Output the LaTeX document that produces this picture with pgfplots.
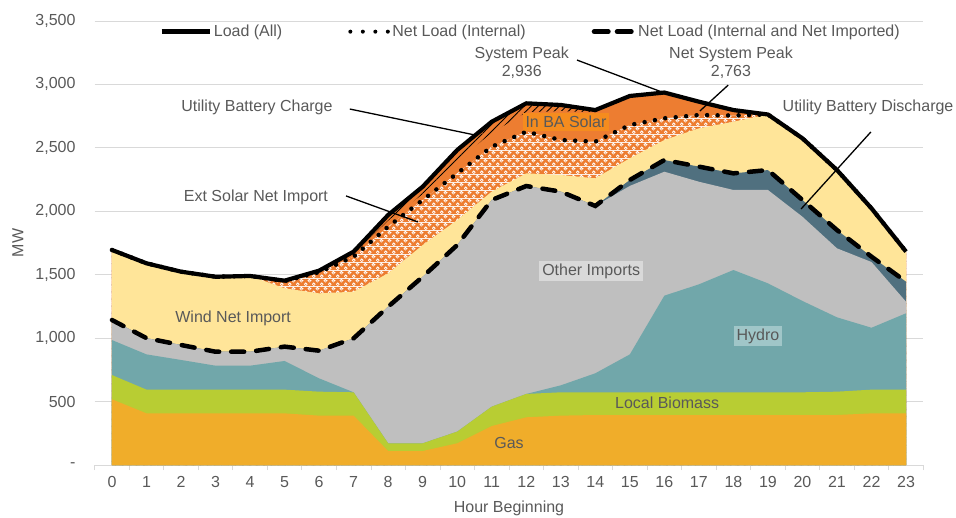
\documentclass[border=0pt]{standalone}
\usepackage{pgfplots}
\pgfplotsset{compat=1.18}
\usepackage{pgfplotstable}
\usepackage{fontspec}
\setmainfont{Liberation Sans}
\usetikzlibrary{patterns,patterns.meta}

\definecolor{gasC}{HTML}{F0AD2A}
\definecolor{bioC}{HTML}{B8CD33}
\definecolor{hydC}{HTML}{71A7AA}
\definecolor{othC}{HTML}{BFBFBF}
\definecolor{disC}{HTML}{50707F}
\definecolor{windC}{HTML}{FFE599}
\definecolor{solarC}{HTML}{ED7D31}
\definecolor{solarbox}{HTML}{F58C1E}
\definecolor{txtC}{HTML}{595959}
\definecolor{gridC}{HTML}{D9D9D9}
\definecolor{othbox}{HTML}{D9D9D9}
\definecolor{hydbox}{HTML}{A0C6C8}

\pgfdeclarepatterninherentlycolored{extsolar}
{\pgfpointorigin}{\pgfqpoint{8pt}{8pt}}{\pgfqpoint{8pt}{8pt}}
{
\pgfsetfillcolor{solarC}
\pgfpathrectangle{\pgfpointorigin}{\pgfqpoint{8pt}{8pt}}
\pgfusepath{fill}
\pgfsetfillcolor{white}
\pgfpathcircle{\pgfqpoint{2pt}{2pt}}{2.1pt}
\pgfpathcircle{\pgfqpoint{6pt}{6pt}}{2.1pt}
\pgfusepath{fill}
\pgfsetfillcolor{solarC}
\pgfpathcircle{\pgfqpoint{2pt}{1.6pt}}{0.7pt}
\pgfpathcircle{\pgfqpoint{6pt}{5.6pt}}{0.7pt}
\pgfusepath{fill}
}

\newcommand{\fs}{\fontsize{16}{18}\selectfont}

% columns: tops of each stacked layer (MW)
\pgfplotstableread{
h gas bio hyd oth dis wind ext inba load
0 518 709 985 1143 1143 1695 1695 1695 1695
1 407 594 872 1000 1000 1590 1590 1590 1590
2 407 594 828 946 946 1524 1524 1524 1524
3 407 594 783 893 893 1484 1484 1484 1484
4 407 594 783 893 893 1490 1490 1490 1490
5 407 594 820 933 933 1393 1450 1453 1453
6 389 578 683 901 901 1353 1520 1530 1532
7 389 573 573 999 999 1366 1642 1662 1682
8 110 171 171 1248 1248 1511 1879 1925 1971
9 110 171 171 1484 1484 1734 2089 2134 2194
10 171 263 263 1734 1734 1931 2299 2400 2483
11 307 460 460 2089 2089 2155 2509 2616 2706
12 376 560 560 2199 2199 2299 2627 2780 2851
13 389 573 628 2155 2155 2286 2562 2790 2838
14 394 573 723 2042 2042 2260 2549 2780 2798
15 394 573 872 2200 2247 2418 2680 2909 2909
16 394 573 1335 2312 2404 2562 2733 2936 2936
17 394 573 1424 2233 2352 2654 2759 2864 2864
18 394 573 1537 2168 2299 2706 2755 2798 2798
19 394 573 1432 2168 2325 2763 2763 2763 2763
20 394 573 1293 1957 2089 2575 2575 2575 2575
21 394 578 1164 1708 1852 2325 2325 2325 2325
22 407 594 1082 1600 1642 2023 2023 2023 2023
23 407 594 1196 1287 1445 1682 1682 1682 1682
}\data

\begin{document}
\begin{tikzpicture}
\useasboundingbox (-94.7pt,-52pt) rectangle (861.3pt,465pt);
\begin{axis}[
  name=ax, at={(0pt,0pt)}, anchor=south west,
  scale only axis, width=828.6pt, height=444pt,
  xmin=-0.5, xmax=23.5, ymin=0, ymax=3500,
  clip=false,
  axis x line*=bottom, axis y line*=left,
  x axis line style={draw=gridC, line width=0.8pt, -},
  y axis line style={draw=none},
  xtick={0,...,23},
  xticklabels={0,1,2,3,4,5,6,7,8,9,10,11,12,13,14,15,16,17,18,19,20,21,22,23},
  minor xtick={-0.5,0.5,...,23.5},
  major tick length=0pt, minor tick length=5pt,
  tick align=outside,
  minor tick style={draw=gridC, line width=0.8pt},
  major tick style={draw=none},
  ytick={0,500,...,3500},
  yticklabels={-,500,{1,000},{1,500},{2,000},{2,500},{3,000},{3,500}},
  ymajorgrids, grid style={draw=gridC, line width=0.8pt},
  tick label style={font=\fs, text=txtC},
  xticklabel style={yshift=-8pt},
  yticklabel style={xshift=-19pt, inner sep=0pt},
  xlabel={Hour Beginning}, ylabel={MW},
  label style={font=\fs, text=txtC},
  xlabel style={at={(axis description cs:0.5,-0.097)}, anchor=center},
  ylabel style={at={(axis description cs:-0.0926,0.5)}, anchor=center},
  legend style={at={(0.526,0.976)}, anchor=center, draw=none, fill=none,
    font=\fs, text=txtC, legend columns=3,
    /tikz/every even column/.append style={column sep=64pt}},
  legend cell align=left,
]
% stacked areas, drawn top-down, each closed to zero
\addplot[forget plot, draw=none, fill=solarC] table[x=h,y=load]{\data} \closedcycle;
\addplot[forget plot, draw=none, pattern={Lines[angle=45,distance=5pt,line width=0.9pt]}, pattern color=black] table[x=h,y=load]{\data} \closedcycle;
\addplot[forget plot, draw=none, fill=solarC] table[x=h,y=inba]{\data} \closedcycle;
\addplot[forget plot, draw=none, fill=white] table[x=h,y=ext]{\data} \closedcycle;
\addplot[forget plot, draw=none, pattern=extsolar] table[x=h,y=ext]{\data} \closedcycle;
\addplot[forget plot, draw=none, fill=windC] table[x=h,y=wind]{\data} \closedcycle;
\addplot[forget plot, draw=none, fill=disC] table[x=h,y=dis]{\data} \closedcycle;
\addplot[forget plot, draw=none, fill=othC] table[x=h,y=oth]{\data} \closedcycle;
\addplot[forget plot, draw=none, fill=hydC] table[x=h,y=hyd]{\data} \closedcycle;
\addplot[forget plot, draw=none, fill=bioC] table[x=h,y=bio]{\data} \closedcycle;
\addplot[forget plot, draw=none, fill=gasC] table[x=h,y=gas]{\data} \closedcycle;

% labels inside areas
\node[font=\fs, text=txtC] at (axis cs:3.51,1159) {Wind Net Import};
\node[font=\fs, text=txtC, fill=othbox, inner sep=3pt] at (axis cs:13.88,1529) {Other Imports};
\node[font=\fs, text=txtC, fill=hydbox, inner sep=3pt] at (axis cs:18.71,1017) {Hydro};
\node[font=\fs, text=txtC] at (axis cs:16.08,489) {Local Biomass};
\node[font=\fs, text=txtC] at (axis cs:11.5,173) {Gas};
\node[font=\fs, text=txtC, fill=solarbox, inner sep=3pt] at (axis cs:13.15,2704) {In BA Solar};

% lines
\addplot[black, line width=4.2pt, line join=round,
  legend image code/.code={\draw[black, line width=4.5pt] (0pt,0pt) -- (48pt,0pt);}]
  table[x=h,y=load]{\data};
\addlegendentry{Load (All)}
\addplot[black, line width=4.5pt, dash pattern=on 0pt off 10.5pt, line cap=round,
  legend image code/.code={\draw[black, line width=4pt, dash pattern=on 0pt off 12.5pt, line cap=round] (2pt,0pt) -- (40pt,0pt);}]
  table[x=h,y=ext]{\data};
\addlegendentry{Net Load (Internal)}
\addplot[black, line width=4.5pt, dash pattern=on 13pt off 12pt, line cap=round,
  legend image code/.code={\draw[black, line width=5pt, dash pattern=on 14pt off 9pt, line cap=round] (2.5pt,0pt) -- (42pt,0pt);}]
  table[x=h,y=dis]{\data};
\addlegendentry{Net Load (Internal and Net Imported)}

% annotations
\node[font=\fs, text=txtC] at (axis cs:4.2,2822) {Utility Battery Charge};
\draw[black, line width=1.3pt] (axis cs:6.89,2806) -- (axis cs:10.52,2601);
\node[font=\fs, text=txtC] at (axis cs:4.17,2113) {Ext Solar Net Import};
\draw[black, line width=1.3pt] (axis cs:6.78,2121) -- (axis cs:8.86,1916);
\node[font=\fs, text=txtC, align=center] at (axis cs:11.87,3172) {System Peak\\2,936};
\draw[black, line width=1.3pt] (axis cs:13.47,3192) -- (axis cs:15.93,2940);
\node[font=\fs, text=txtC, align=center] at (axis cs:17.93,3172) {Net System Peak\\2,763};
\draw[black, line width=1.3pt] (axis cs:17.85,2995) -- (axis cs:17.03,2791);
\node[font=\fs, text=txtC] at (axis cs:21.9,2822) {Utility Battery Discharge};
\draw[black, line width=1.3pt] (axis cs:21.98,2625) -- (axis cs:19.96,2018);
\end{axis}
\end{tikzpicture}
\end{document}
